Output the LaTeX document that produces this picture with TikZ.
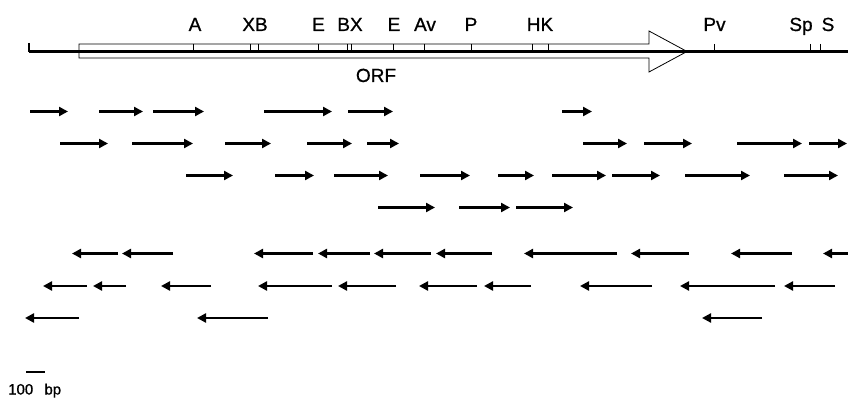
\documentclass[tikz,border=0pt]{standalone}
\usepackage{fontspec}
\setmainfont{Liberation Sans}
\newfontfamily\sitefont{Liberation Sans}[FakeBold=0.8]
\usetikzlibrary{arrows.meta}
\begin{document}
\begin{tikzpicture}[x=1pt,y=-1pt,
  fragment/.style={line width=2.8pt,-{Triangle[length=9pt,width=9pt]}},
  sitetick/.style={line width=0.9pt},
  sitelabel/.style={anchor=base,font=\sitefont\fontsize{19}{19}\selectfont,inner sep=0pt},
  dnaline/.style={line width=2.8pt},
  orfbox/.style={line width=0.8pt,line join=miter},
]
\useasboundingbox (0,0) rectangle (848,398);

% open reading frame as an open arrow
\draw[orfbox] (79,44) -- (649,44) -- (649,31) -- (687,51.5) -- (649,72) -- (649,58) -- (79,58) -- cycle;

% restriction map backbone
\coordinate (left) at (29,51.5);
\coordinate (right) at (848,51.5);
\draw[dnaline] (left) -- (right);
\draw[line width=1.2pt] (29,43) -- (29,52.5);

% restriction sites
\foreach \x in {193,250,258,318,347,351,393,424,471,532,548,714,810,820}
  \draw[sitetick] (\x,44) -- (\x,51.5);

\node[sitelabel] (sA)  at (195,31) {A};
\node[sitelabel] (sXB) at (255,31) {XB};
\node[sitelabel] (sE1) at (318.5,31) {E};
\node[sitelabel] (sBX) at (350,31) {BX};
\node[sitelabel] (sE2) at (394,31) {E};
\node[sitelabel] (sAv) at (425,31) {Av};
\node[sitelabel] (sP)  at (471,31) {P};
\node[sitelabel] (sHK) at (540,31) {HK};
\node[sitelabel] (sPv) at (714.5,31) {Pv};
\node[sitelabel] (sSp) at (801,31) {Sp};
\node[sitelabel] (sS)  at (828,31) {S};
\node[sitelabel] (orf) at (376,82) {ORF};

% sequenced fragments, forward strand
\foreach \a/\b in {30/68,99/143,153/204,264/332,348/393,562/592}
  \draw[fragment] (\a,111.5) -- (\b,111.5);
\foreach \a/\b in {60/108,132/193,225/271,307/352,367/399,583/627,644/692,737/802,809/847}
  \draw[fragment] (\a,143.5) -- (\b,143.5);
\foreach \a/\b in {186/233,275/314,334/388,420/470,498/534,552/606,612/660,685/750,784/838}
  \draw[fragment] (\a,175.5) -- (\b,175.5);
\foreach \a/\b in {378/435,459/510,516/573}
  \draw[fragment] (\a,207.5) -- (\b,207.5);

% sequenced fragments, reverse strand
\foreach \a/\b in {72/118,122/173,254/313,318/370,374/431,436/492,524/617,631/689,731/792,823/848}
  \draw[fragment] (\b,253.5) -- (\a,253.5);
\foreach \a/\b in {43/87,93/126,161/211,258/332,338/396,419/477,484/531,580/652,680/775,784/835}
  \draw[fragment] (\b,286) -- (\a,286);
\foreach \a/\b in {25/79,197/268,702/762}
  \draw[fragment] (\b,318) -- (\a,318);

% scale bar
\coordinate (sb1) at (26,372);
\coordinate (sb2) at (45,372);
\draw[dnaline] (sb1) -- (sb2);
\node[anchor=base west,inner sep=0pt,font=\sitefont\fontsize{15}{15}\selectfont] (scale) at (8,394.5) {100\hspace{0.75em}bp};
\end{tikzpicture}
\end{document}
